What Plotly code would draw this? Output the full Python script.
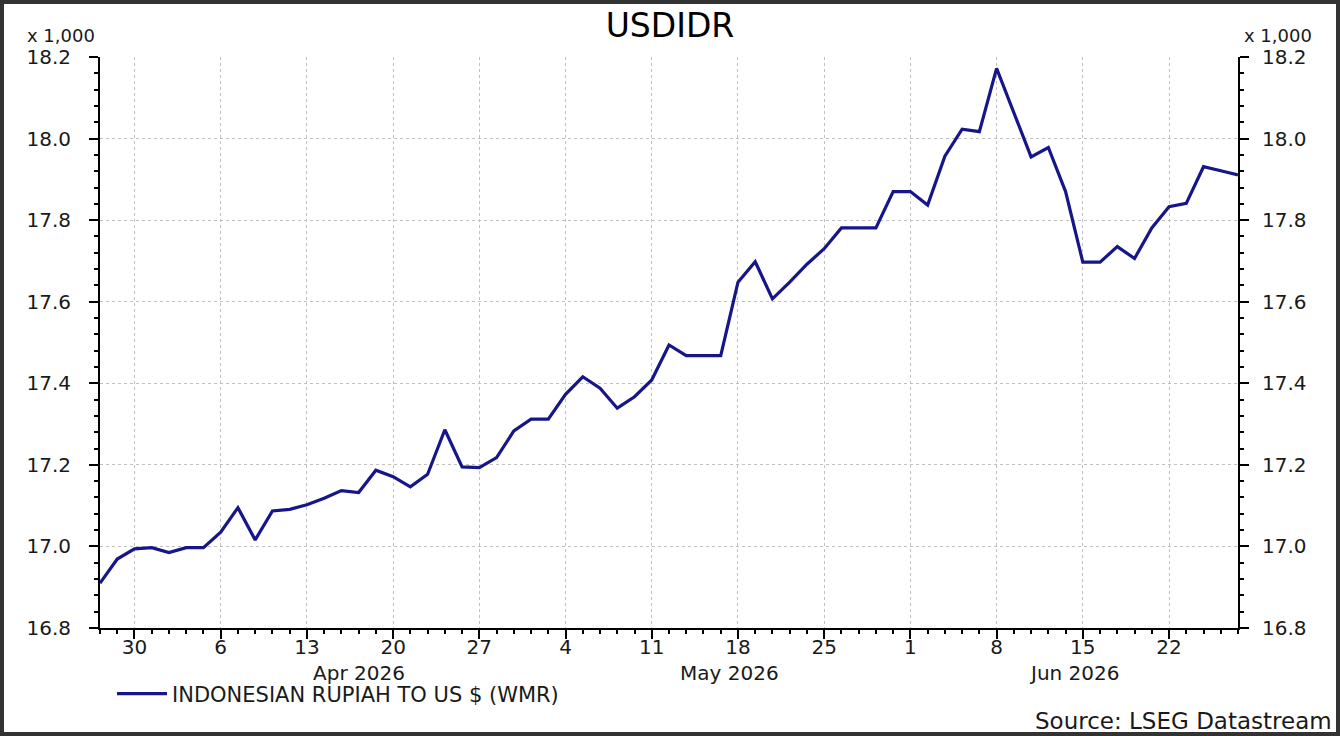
import plotly.graph_objects as go

# USDIDR daily fixing (WMR), business days only, values in thousands of rupiah
dates = [
    "2026-03-26", "2026-03-27",
    "2026-03-30", "2026-03-31", "2026-04-01", "2026-04-02", "2026-04-03",
    "2026-04-06", "2026-04-07", "2026-04-08", "2026-04-09", "2026-04-10",
    "2026-04-13", "2026-04-14", "2026-04-15", "2026-04-16", "2026-04-17",
    "2026-04-20", "2026-04-21", "2026-04-22", "2026-04-23", "2026-04-24",
    "2026-04-27", "2026-04-28", "2026-04-29", "2026-04-30", "2026-05-01",
    "2026-05-04", "2026-05-05", "2026-05-06", "2026-05-07", "2026-05-08",
    "2026-05-11", "2026-05-12", "2026-05-13", "2026-05-14", "2026-05-15",
    "2026-05-18", "2026-05-19", "2026-05-20", "2026-05-21", "2026-05-22",
    "2026-05-25", "2026-05-26", "2026-05-27", "2026-05-28", "2026-05-29",
    "2026-06-01", "2026-06-02", "2026-06-03", "2026-06-04", "2026-06-05",
    "2026-06-08", "2026-06-09", "2026-06-10", "2026-06-11", "2026-06-12",
    "2026-06-15", "2026-06-16", "2026-06-17", "2026-06-18", "2026-06-19",
    "2026-06-22", "2026-06-23", "2026-06-24", "2026-06-25", "2026-06-26",
]
usdidr = [
    16.910, 16.969,
    16.994, 16.997, 16.985, 16.997, 16.997,
    17.035, 17.095, 17.016, 17.087, 17.091,
    17.102, 17.118, 17.137, 17.132, 17.187,
    17.171, 17.146, 17.177, 17.286, 17.195,
    17.193, 17.218, 17.283, 17.312, 17.312,
    17.373, 17.416, 17.388, 17.339, 17.367,
    17.408, 17.494, 17.468, 17.468, 17.468,
    17.648, 17.698, 17.607, 17.648, 17.692,
    17.730, 17.781, 17.781, 17.781, 17.870,
    17.870, 17.837, 17.957, 18.023, 18.017,
    18.172, 18.062, 17.955, 17.978, 17.870,
    17.697, 17.697, 17.735, 17.706, 17.781,
    17.833, 17.841, 17.931, 17.921, 17.911,
]

# weekly ticks on mondays
week_ticks = ["2026-03-30", "2026-04-06", "2026-04-13", "2026-04-20", "2026-04-27",
              "2026-05-04", "2026-05-11", "2026-05-18", "2026-05-25", "2026-06-01",
              "2026-06-08", "2026-06-15", "2026-06-22"]
week_labels = ["30", "6", "13", "20", "27", "4", "11", "18", "25", "1", "8", "15", "22"]

month_labels = ["Apr 2026", "May 2026", "Jun 2026"]
month_centres = ["2026-04-16", "2026-05-15 12:00", "2026-06-12 12:00"]

font = "DejaVu Sans"
ink = "#1a1a1a"
navy = "#16168a"
grid = "#c0c0c0"

W, H = 1340, 736
L, R, T, B = 100, 102, 57, 108
pw, ph = W - L - R, H - T - B

fig = go.Figure()
fig.add_scatter(x=dates, y=usdidr, mode="lines", name="INDONESIAN RUPIAH TO US $ (WMR)",
                line=dict(color=navy, width=3.2))
# copy on the right axis so it gets drawn
fig.add_scatter(x=dates, y=usdidr, mode="lines", yaxis="y2", showlegend=False,
                hoverinfo="skip", line=dict(color=navy, width=0), opacity=0)

yax = dict(range=[16.8, 18.2], dtick=0.2, tickformat=".1f",
           showline=True, linecolor="black", linewidth=2,
           ticks="outside", ticklen=9, tickwidth=2, tickcolor="black",
           zeroline=False,
           tickfont=dict(family=font, size=20, color=ink),
           minor=dict(dtick=0.04, ticks="outside", ticklen=4, tickwidth=2,
                      tickcolor="black", showgrid=False))

fig.update_layout(
    width=W, height=H, autosize=False,
    margin=dict(l=L, r=R, t=T, b=B),
    paper_bgcolor="white", plot_bgcolor="white",
    font=dict(family=font, color=ink),
    title=dict(text="USDIDR", x=0.5, xanchor="center", y=1 - 25 / H, yanchor="middle",
               font=dict(family=font, size=33, color="black")),
    xaxis=dict(type="date", range=["2026-03-26", "2026-06-26"],
               rangebreaks=[dict(bounds=["sat", "mon"])],
               tickmode="array", tickvals=week_ticks, ticktext=week_labels,
               showline=True, linecolor="black", linewidth=2,
               ticks="outside", ticklen=9, tickwidth=2, tickcolor="black",
               ticklabelstandoff=-9,
               showgrid=True, gridcolor=grid, griddash="dot", gridwidth=1,
               tickfont=dict(family=font, size=20, color=ink),
               minor=dict(tickmode="array", tickvals=dates, ticks="outside", ticklen=4,
                          tickwidth=2, tickcolor="black", showgrid=False)),
    yaxis=dict(yax, side="left", ticklabelstandoff=14,
               showgrid=True, gridcolor=grid, griddash="dot", gridwidth=1),
    yaxis2=dict(yax, side="right", overlaying="y", ticklabelstandoff=9, showgrid=False),
    showlegend=True,
    legend=dict(x=(112 - L) / pw, y=(T + ph - 694) / ph, xanchor="left", yanchor="middle",
                orientation="h", bgcolor="rgba(0,0,0,0)", itemwidth=50,
                font=dict(family=font, size=21, color=ink)),
)

# month names under the day numbers
for lab, cx in zip(month_labels, month_centres):
    fig.add_annotation(x=cx, y=(T + ph - 673) / ph, xref="x", yref="paper", text=lab,
                       showarrow=False, xanchor="center", yanchor="middle",
                       font=dict(family=font, size=20, color=ink))

# scale notes above both axes
fig.add_annotation(x=-3 / pw, y=(T + ph - 35) / ph, xref="paper", yref="paper",
                   text="x 1,000", showarrow=False, xanchor="right", yanchor="middle",
                   font=dict(family=font, size=18, color=ink))
fig.add_annotation(x=1 + 4 / pw, y=(T + ph - 35) / ph, xref="paper", yref="paper",
                   text="x 1,000", showarrow=False, xanchor="left", yanchor="middle",
                   font=dict(family=font, size=18, color=ink))

fig.add_annotation(x=1 + (R - 6) / pw, y=(T + ph - 721) / ph, xref="paper", yref="paper",
                   text="Source: LSEG Datastream", showarrow=False,
                   xanchor="right", yanchor="middle",
                   font=dict(family=font, size=23, color=ink))

# dark frame round the whole picture
fig.add_shape(type="rect", xref="paper", yref="paper",
              x0=(-L + 2) / pw, x1=1 + (R - 2) / pw,
              y0=(-B + 2) / ph, y1=1 + (T - 2) / ph,
              line=dict(color="#333333", width=4), layer="above")

# page body has a default margin, drop it so the figure sits at 0,0
fig.write_html("out.html", config={"displayModeBar": False},
               post_script="document.body.style.margin='0';")
